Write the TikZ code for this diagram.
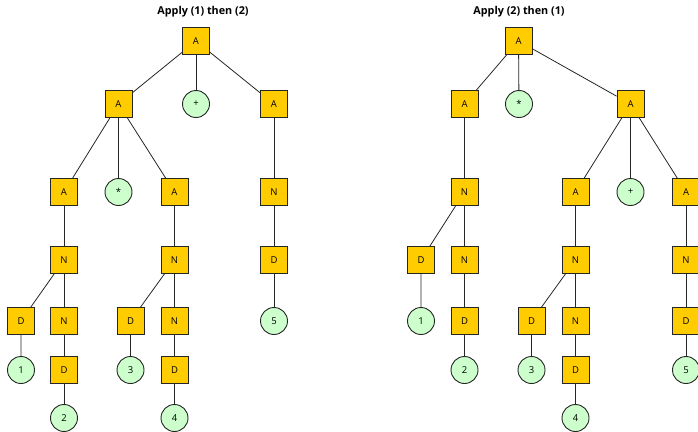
\documentclass[tikz,border=0pt]{standalone}
\usepackage{fontspec}
\setmainfont{Open Sans}
\usepackage{tikz}
\definecolor{boxfill}{HTML}{FFCC00}
\definecolor{leaffill}{HTML}{CCFFCC}

\begin{document}
\begin{tikzpicture}[x=1pt,y=-1pt,
  sq/.style={draw=black!85,line width=0.9pt,fill=boxfill,minimum size=27pt,inner sep=0pt,font=\fontsize{9.5}{9.5}\selectfont},
  leaf/.style={circle,draw=black!85,line width=0.9pt,fill=leaffill,minimum size=27pt,inner sep=0pt,font=\fontsize{9.5}{9.5}\selectfont},
  title/.style={font=\fontsize{10.8}{11}\selectfont\bfseries},
  edge/.style={draw=black!85,line width=0.8pt}]
\useasboundingbox (0,0) rectangle (698,431);
\clip (0,0) rectangle (698,431);
\path (203,12) node[title] (lt) {Apply (1) then (2)};
\path (519,12) node[title] (rt) {Apply (2) then (1)};
% left tree
\path (196,41) node[sq] (L) {A};
\path (118.5,104) node[sq] (La) {A};
\path (196,104) node[leaf] (Lplus) {+};
\path (274,104) node[sq] (Lb) {A};
\path (64,192) node[sq] (Laa) {A};
\path (118.5,192) node[leaf] (Lstar) {*};
\path (174.5,192) node[sq] (Lab) {A};
\path (274,192) node[sq] (Lbn) {N};
\path (64,260) node[sq] (Laan) {N};
\path (174.5,260) node[sq] (Labn) {N};
\path (274,260) node[sq] (Lbd) {D};
\path (21,321) node[sq] (Laad) {D};
\path (64,321) node[sq] (Laann) {N};
\path (130.5,321) node[sq] (Labd) {D};
\path (174.5,321) node[sq] (Labnn) {N};
\path (274,321) node[leaf] (L5) {5};
\path (21,370) node[leaf] (L1) {1};
\path (64,370) node[sq] (Laannd) {D};
\path (130.5,370) node[leaf] (L3) {3};
\path (174.5,370) node[sq] (Labnnd) {D};
\path (64,418) node[leaf] (L2) {2};
\path (174.5,418) node[leaf] (L4) {4};
\draw[edge] (L) -- (La);
\draw[edge] (L) -- (Lplus);
\draw[edge] (L) -- (Lb);
\draw[edge] (La) -- (Laa);
\draw[edge] (La) -- (Lstar);
\draw[edge] (La) -- (Lab);
\draw[edge] (Lb) -- (Lbn) -- (Lbd) -- (L5);
\draw[edge] (Laa) -- (Laan);
\draw[edge] (Laan) -- (Laad) -- (L1);
\draw[edge] (Laan) -- (Laann) -- (Laannd) -- (L2);
\draw[edge] (Lab) -- (Labn);
\draw[edge] (Labn) -- (Labd) -- (L3);
\draw[edge] (Labn) -- (Labnn) -- (Labnnd) -- (L4);
% right tree
\path (518.5,41) node[sq] (R) {A};
\path (464.5,104) node[sq] (Ra) {A};
\path (519,104) node[leaf] (Rstar) {*};
\path (630.5,104) node[sq] (Rb) {A};
\path (464.5,192) node[sq] (Ran) {N};
\path (575.5,192) node[sq] (Rba) {A};
\path (630.5,192) node[leaf] (Rplus) {+};
\path (686,192) node[sq] (Rbb) {A};
\path (421,260) node[sq] (Rand) {D};
\path (464.5,260) node[sq] (Rann) {N};
\path (575.5,260) node[sq] (Rban) {N};
\path (686,260) node[sq] (Rbbn) {N};
\path (421,321) node[leaf] (R1) {1};
\path (464.5,321) node[sq] (Rannd) {D};
\path (531.5,321) node[sq] (Rband) {D};
\path (575.5,321) node[sq] (Rbann) {N};
\path (686,321) node[sq] (Rbbnd) {D};
\path (464.5,370) node[leaf] (R2) {2};
\path (531.5,370) node[leaf] (R3) {3};
\path (575.5,370) node[sq] (Rbannd) {D};
\path (686,370) node[leaf] (R5) {5};
\path (575.5,418) node[leaf] (R4) {4};
\draw[edge] (R) -- (Ra);
\draw[edge] (R) -- (Rstar);
\draw[edge] (R) -- (Rb);
\draw[edge] (Ra) -- (Ran);
\draw[edge] (Ran) -- (Rand) -- (R1);
\draw[edge] (Ran) -- (Rann) -- (Rannd) -- (R2);
\draw[edge] (Rb) -- (Rba);
\draw[edge] (Rb) -- (Rplus);
\draw[edge] (Rb) -- (Rbb);
\draw[edge] (Rba) -- (Rban);
\draw[edge] (Rban) -- (Rband) -- (R3);
\draw[edge] (Rban) -- (Rbann) -- (Rbannd) -- (R4);
\draw[edge] (Rbb) -- (Rbbn) -- (Rbbnd) -- (R5);

\end{tikzpicture}
\end{document}
